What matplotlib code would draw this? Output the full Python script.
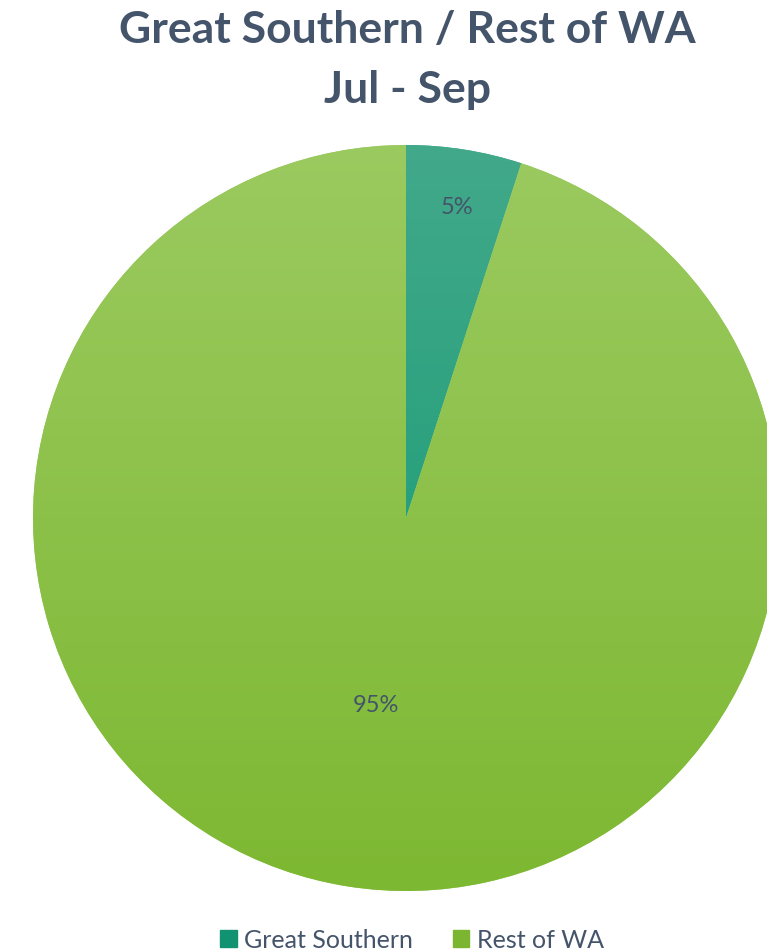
import numpy as np
import matplotlib
matplotlib.use("Agg")
import matplotlib.pyplot as plt
from matplotlib.colors import to_rgb

# ------ data ------
labels = ['Great Southern', 'Rest of WA']
values = [5, 95]
pct_labels = ['5%', '95%']
top_colors = ['#42a98a', '#9bca60']
bottom_colors = ['#0f9870', '#7db832']
legend_colors = ['#119271', '#7cb630']

text_color = '#44546A'
plt.rcParams['font.family'] = ['Lato', 'DejaVu Sans']

# ------ plot ------
W, H = 767, 953
fig = plt.figure(figsize=(W / 100, H / 100), dpi=100)
ax = fig.add_axes([0, 0, 1, 1])

cx, cy, r = 406, H - 519, 373
wedges, _ = ax.pie(values, startangle=90, counterclock=False, center=(cx, cy),
                   radius=r, colors=top_colors, wedgeprops=dict(linewidth=0))

# vertical gradient on each slice
for w, c1, c2 in zip(wedges, top_colors, bottom_colors):
    t = np.linspace(0, 1, 256)[:, None]
    grad = (1 - t) * np.array(to_rgb(c1)) + t * np.array(to_rgb(c2))
    img = ax.imshow(grad[:, None, :].repeat(2, axis=1), extent=[cx - r, cx + r, cy - r, cy + r],
                    origin='upper', aspect='auto', zorder=2, interpolation='bilinear')
    img.set_clip_path(w)

ax.set_xlim(0, W)
ax.set_ylim(0, H)
ax.axis('off')

# percent labels
ax.text(457, H - 208, pct_labels[0], ha='center', va='center', fontsize=17, color=text_color, zorder=5)
ax.text(376, H - 706, pct_labels[1], ha='center', va='center', fontsize=17, color=text_color, zorder=5)

# title
ax.text(407, H - 30, 'Great Southern / Rest of WA', ha='center', va='center',
        fontsize=32, fontweight='bold', color=text_color)
ax.text(407, H - 90, 'Jul - Sep', ha='center', va='center',
        fontsize=32, fontweight='bold', color=text_color)

# legend
handles = [plt.Rectangle((0, 0), 1, 1, color=c) for c in legend_colors]
leg = fig.legend(handles, labels, loc='center', bbox_to_anchor=(412 / W, 1 - 941 / H), ncol=2,
                 frameon=False, fontsize=18, handlelength=0.65, handleheight=0.65,
                 handletextpad=0.3, columnspacing=1.6, labelcolor=text_color)

fig.savefig('out.png', dpi=100)
